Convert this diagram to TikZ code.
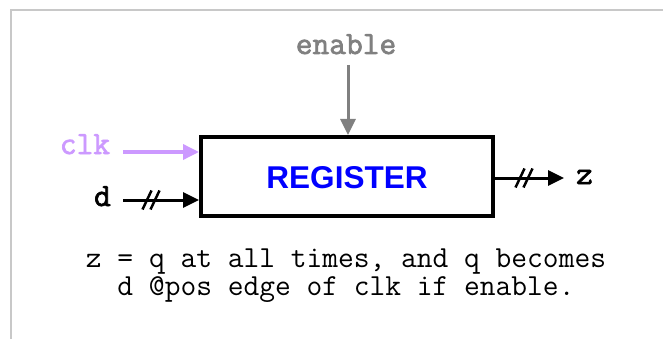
\documentclass[tikz,border=0pt]{standalone}
\usepackage{fontspec}
\setmainfont{Liberation Sans}
\newfontfamily\regfont{Liberation Sans}
\newfontfamily\lbfont{Latin Modern Mono}[FakeBold=2.2]
\newfontfamily\dsfont{Latin Modern Mono}
\usetikzlibrary{arrows.meta}
\definecolor{clkcol}{HTML}{CC99FF}
\definecolor{encol}{HTML}{808080}
\definecolor{framecol}{HTML}{C8C8C8}
\definecolor{regblue}{HTML}{0000FF}
\frenchspacing
\begin{document}
\begin{tikzpicture}[x=1pt,y=-1pt,
  lbl/.style={font=\lbfont\fontsize{32.5}{34}\selectfont, inner sep=0pt, anchor=base},
  desc/.style={font=\dsfont\fontsize{30.6}{32}\selectfont, inner sep=0pt, anchor=base},
  sig/.style={line width=3pt, -{Triangle[length=16pt,width=15pt]}},
  regbox/.style={draw, line width=4pt, minimum width=292pt, minimum height=79pt, inner sep=0pt},
  busmark/.pic={\draw[line width=2.5pt] (-8.5,9.5) -- (0.5,-9.5) (-0.5,9.5) -- (8.5,-9.5);}
]
\useasboundingbox (0,0) rectangle (663,339);
\draw[framecol, line width=2pt] (11,340) -- (11,10) -- (664,10);

\node[regbox] (box) at (347,176.5) {};
\node[font=\regfont\bfseries\fontsize{31.5}{33}\selectfont, text=regblue, anchor=base, inner sep=0pt] (reg) at (347,189) {REGISTER};

\node[lbl, text=encol] (en) at (346,54) {enable};
\node[lbl, text=clkcol] (clk) at (85,154) {clk};
\node[lbl] (d) at (102.5,206) {d};
\node[lbl] (z) at (584.5,184) {z};

\coordinate (enS) at (348,65);
\coordinate (clkS) at (123,152);
\coordinate (dS) at (123,200);
\coordinate (zE) at (564,178);

\draw[sig, encol] (enS) -- (enS |- box.north);
\draw[sig, clkcol, line width=3.5pt] (clkS) -- (clkS -| box.west);
\draw[sig] (dS) -- (dS -| box.west);
\draw[sig] (zE -| box.east) -- (zE);

\pic at (151,200) {busmark};
\pic at (524,178) {busmark};

\node[desc] (l1) at (346,267) {z = q at all times, and q becomes};
\node[desc] (l2) at (346,295) {d @pos edge of clk if enable.};
\end{tikzpicture}
\end{document}
